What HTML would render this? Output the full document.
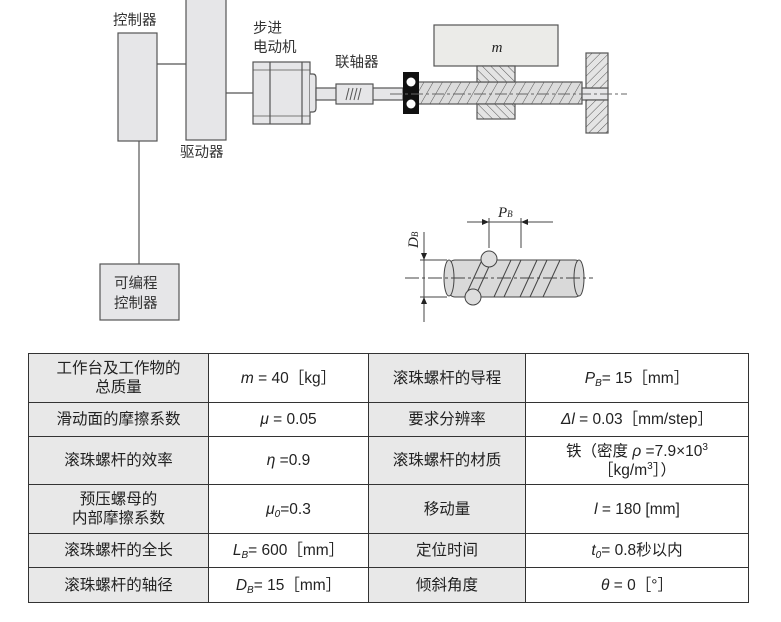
<!DOCTYPE html>
<html><head><meta charset="utf-8"><style>
body{margin:0;background:#fff;width:781px;height:622px;overflow:hidden;font-family:"Liberation Sans","Noto Sans CJK SC",sans-serif;}
svg{position:absolute;left:0;top:0}
table{position:absolute;left:28px;top:353px;border-collapse:collapse;font-size:15.5px;color:#222}
td{border:1.5px solid #333;text-align:center;padding:0;line-height:19px}
td.g{background:#e8e8e8}
i{font-style:italic}
sub{font-size:10px;line-height:0;position:relative;top:3px;vertical-align:baseline;font-style:italic}
sup{font-size:10px;line-height:0;position:relative;top:-6px;vertical-align:baseline}
</style></head><body>
<svg width="781" height="345" font-family="Liberation Sans,Noto Sans CJK SC,sans-serif">
<defs>
<pattern id="h" width="6" height="6" patternUnits="userSpaceOnUse" patternTransform="rotate(45)"><rect width="6" height="6" fill="#e4e4e4"/><line x1="0" y1="0" x2="0" y2="6" stroke="#555" stroke-width="1"/></pattern>
<pattern id="h2" width="6" height="6" patternUnits="userSpaceOnUse" patternTransform="rotate(-45)"><rect width="6" height="6" fill="#e4e4e4"/><line x1="0" y1="0" x2="0" y2="6" stroke="#555" stroke-width="1"/></pattern>
<pattern id="s" width="8" height="8" patternUnits="userSpaceOnUse" patternTransform="rotate(30)"><rect width="8" height="8" fill="#dcdcdc"/><line x1="0" y1="0" x2="0" y2="8" stroke="#555" stroke-width="1"/></pattern>
</defs>
<g stroke="#555" stroke-width="1.2" fill="#e6e6e8">
<line x1="157" y1="64" x2="186" y2="64"/>
<line x1="226" y1="93" x2="253" y2="93"/>
<line x1="139" y1="141" x2="139" y2="264"/>
<rect x="118" y="33" width="39" height="108"/>
<rect x="186" y="-2" width="40" height="142"/>
<rect x="100" y="264" width="79" height="56"/>
<rect x="253" y="62" width="57" height="62"/>
<line x1="270" y1="62" x2="270" y2="124"/>
<line x1="302" y1="62" x2="302" y2="124"/>
<line x1="253" y1="70" x2="310" y2="70" stroke-width="0.8"/>
<line x1="253" y1="116" x2="310" y2="116" stroke-width="0.8"/>
<path d="M310 74 h3 q3 0 3 4 v30 q0 4 -3 4 h-3" fill="#e6e6e8"/>
<rect x="316" y="88" width="87" height="12"/>
<rect x="336" y="84" width="37" height="20"/>
<path d="M346 100 l3 -12 M350 100 l3 -12 M354 100 l3 -12 M358 100 l3 -12" stroke-width="1"/>
<rect x="418" y="82" width="164" height="22" fill="url(#s)"/>
<rect x="434" y="25" width="124" height="41" fill="#ebebe8"/>
<rect x="477" y="66" width="38" height="16" fill="url(#h2)"/>
<rect x="477" y="104" width="38" height="15" fill="url(#h2)"/>
<rect x="582" y="88" width="26" height="12"/>
<rect x="586" y="53" width="22" height="35" fill="url(#h)"/>
<rect x="586" y="100" width="22" height="33" fill="url(#h)"/>
</g>
<rect x="403" y="72" width="16" height="42" fill="#111"/>
<circle cx="411" cy="82" r="4.5" fill="#fff"/><circle cx="411" cy="104" r="4.5" fill="#fff"/>
<line x1="390" y1="94" x2="627" y2="94" stroke="#666" stroke-width="1" stroke-dasharray="12,3,3,3"/>
<text x="497" y="52" font-family="Liberation Serif,serif" font-style="italic" font-size="15" fill="#222" text-anchor="middle">m</text>
<g font-size="14.5" fill="#333">
<text x="113" y="25">控制器</text>
<text x="180" y="157">驱动器</text>
<text x="253" y="33">步进</text>
<text x="253" y="52">电动机</text>
<text x="335" y="67">联轴器</text>
<text x="114" y="288">可编程</text>
<text x="114" y="308">控制器</text>
</g>
<g stroke="#444" stroke-width="1">
<rect x="449" y="260" width="132" height="37" rx="6" fill="#d9d9d9"/>
<ellipse cx="449" cy="278" rx="5" ry="18" fill="#d9d9d9"/>
<ellipse cx="579" cy="278" rx="5" ry="18" fill="#d9d9d9"/>
<path d="M482 260 L465 297 M492 260 L475 297 M511 260 L494 297 M521 260 L504 297 M537 260 L520 297 M547 260 L530 297 M560 260 L543 297" fill="none"/>
<circle cx="489" cy="259" r="8" fill="#ddd"/>
<circle cx="473" cy="297" r="8" fill="#ddd"/>
<line x1="405" y1="278" x2="593" y2="278" stroke-dasharray="14,3,3,3"/>
<line x1="420" y1="260" x2="447" y2="260"/><line x1="420" y1="297" x2="447" y2="297"/>
<line x1="424" y1="232" x2="424" y2="322"/>
<line x1="489" y1="218" x2="489" y2="248"/><line x1="521" y1="218" x2="521" y2="248"/>
<line x1="467" y1="222" x2="553" y2="222"/>
</g>
<path d="M424 260 l-3 -7 h6z M424 297 l-3 7 h6z M489 222 l-7 -3 v6z M521 222 l7 -3 v6z" fill="#222"/>
<text x="498" y="217" font-family="Liberation Serif,serif" font-style="italic" font-size="15" fill="#222">P<tspan font-size="9">B</tspan></text>
<text transform="translate(418,248) rotate(-90)" font-family="Liberation Serif,serif" font-style="italic" font-size="15" fill="#222">D<tspan font-size="9">B</tspan></text>
</svg>
<table>
<colgroup><col style="width:180px"><col style="width:160px"><col style="width:157px"><col style="width:223px"></colgroup>
<tr style="height:49px"><td class="g">工作台及工作物的<br>总质量</td><td><i>m</i> = 40［kg］</td><td class="g">滚珠螺杆的导程</td><td><i>P<sub>B</sub></i>= 15［mm］</td></tr>
<tr style="height:34px"><td class="g">滑动面的摩擦系数</td><td><i>μ</i> = 0.05</td><td class="g">要求分辨率</td><td><i>Δl</i> = 0.03［mm/step］</td></tr>
<tr style="height:48px"><td class="g">滚珠螺杆的效率</td><td><i>η</i> =0.9</td><td class="g">滚珠螺杆的材质</td><td>铁（密度 <i>ρ</i> =7.9×10<sup>3</sup><br>［kg/m<sup>3</sup>］）</td></tr>
<tr style="height:49px"><td class="g">预压螺母的<br>内部摩擦系数</td><td><i>μ<sub>0</sub></i>=0.3</td><td class="g">移动量</td><td><i>l</i> = 180 [mm]</td></tr>
<tr style="height:34px"><td class="g">滚珠螺杆的全长</td><td><i>L<sub>B</sub></i>= 600［mm］</td><td class="g">定位时间</td><td><i>t<sub>0</sub></i>= 0.8秒以内</td></tr>
<tr style="height:35px"><td class="g">滚珠螺杆的轴径</td><td><i>D<sub>B</sub></i>= 15［mm］</td><td class="g">倾斜角度</td><td><i>θ</i> = 0［°］</td></tr>
</table>
</body></html>
